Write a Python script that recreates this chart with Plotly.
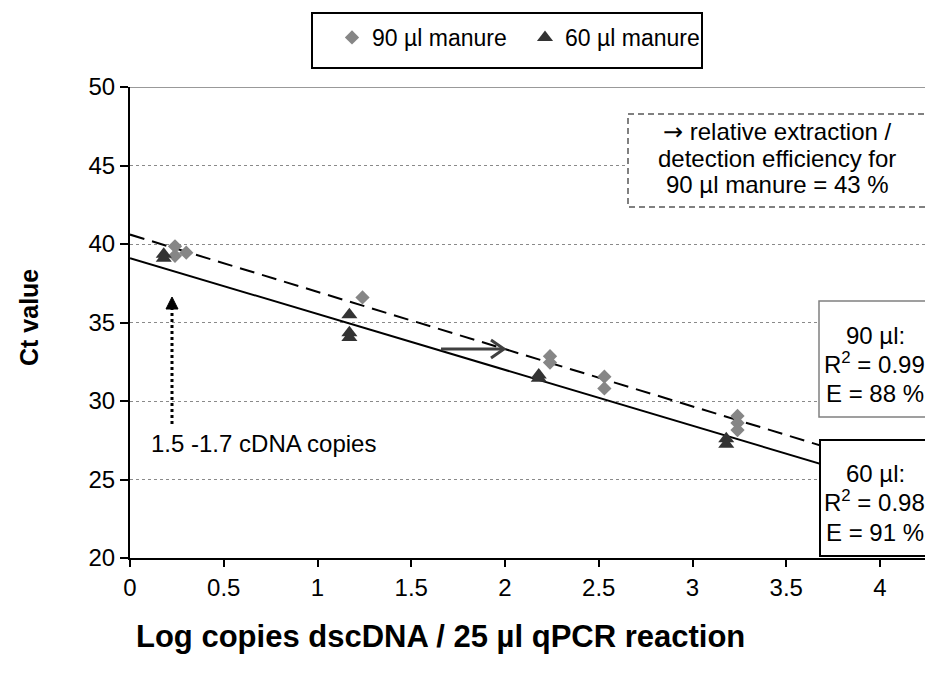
import math
import numpy as np
import plotly.graph_objects as go

# ---------------- data ----------------
x_90 = [0.24, 0.24, 0.30, 1.24, 2.24, 2.24, 2.53, 2.53, 3.24, 3.24, 3.24]
ct_90 = [39.85, 39.25, 39.45, 36.6, 32.85, 32.45, 31.55, 30.8, 29.05, 28.6, 28.15]

x_60 = [0.18, 0.18, 1.17, 1.17, 1.17, 2.18, 2.18, 3.18, 3.18]
ct_60 = [39.35, 39.1, 35.5, 34.35, 34.05, 31.65, 31.45, 27.6, 27.25]

# fitted standard curves (efficiency -> slope, intercept)
eff_90 = 0.88
eff_60 = 0.91
intercept_90 = 40.6
intercept_60 = 39.1
r2_90 = 0.99
r2_60 = 0.98

x_ticks = [0, 0.5, 1, 1.5, 2, 2.5, 3, 3.5, 4]
x_tick_labels = ["0", "0.5", "1", "1.5", "2", "2.5", "3", "3.5", "4"]
y_ticks = [20, 25, 30, 35, 40, 45, 50]

# ---------------- layout geometry ----------------
W, H = 925, 675
L, T, R, B = 130, 87, 0, 117
PW, PH = W - L - R, H - T - B
XMAX = 4.24
YMIN, YMAX = 20, 50


def px2x(px):
    return (px - L) / PW * XMAX


def px2y(py):
    return YMIN + (T + PH - py) / PH * (YMAX - YMIN)


def pxpaper_x(px):
    return (px - L) / PW


def pxpaper_y(py):
    return (T + PH - py) / PH


FONT = "Liberation Sans, Arial, sans-serif"
FS = 24

slope_90 = -1 / math.log10(1 + eff_90)
slope_60 = -1 / math.log10(1 + eff_60)
xfit = np.linspace(0, XMAX, 50)

fig = go.Figure()

fig.add_trace(go.Scatter(
    x=xfit, y=intercept_90 + slope_90 * xfit, mode="lines",
    line=dict(color="black", width=2, dash="15px,8px"),
    showlegend=False, hoverinfo="skip"))
fig.add_trace(go.Scatter(
    x=xfit, y=intercept_60 + slope_60 * xfit, mode="lines",
    line=dict(color="black", width=2),
    showlegend=False, hoverinfo="skip"))

fig.add_trace(go.Scatter(
    x=x_90, y=ct_90, mode="markers", name="90 µl manure",
    marker=dict(symbol="diamond", size=11, color="#868686")))
fig.add_trace(go.Scatter(
    x=x_60, y=ct_60, mode="markers", name="60 µl manure",
    marker=dict(symbol="triangle-up", size=14, color="#333333")))

shapes = []
# legend frame
shapes.append(dict(type="rect", xref="paper", yref="paper",
                   x0=pxpaper_x(312), x1=pxpaper_x(702), y0=pxpaper_y(13), y1=pxpaper_y(68),
                   fillcolor="white", line=dict(color="black", width=2), layer="below"))
# top frame line at 50
shapes.append(dict(type="line", xref="x", yref="y", x0=0, x1=XMAX, y0=50, y1=50,
                   line=dict(color="#999999", width=2), layer="below"))

# dotted vertical arrow
ax_x = px2x(172)
shapes.append(dict(type="line", xref="x", yref="y", x0=ax_x, x1=ax_x,
                   y0=px2y(424), y1=px2y(306),
                   line=dict(color="black", width=3, dash="dot"), layer="above"))
shapes.append(dict(type="path", xref="x", yref="y",
                   path=f"M {px2x(166)},{px2y(309)} L {px2x(172)},{px2y(297)} L {px2x(178)},{px2y(309)} Z",
                   fillcolor="black", line=dict(color="black", width=1), layer="above"))

# horizontal arrow
shapes.append(dict(type="line", xref="x", yref="y", x0=px2x(441), x1=px2x(503),
                   y0=px2y(349), y1=px2y(349),
                   line=dict(color="#404040", width=3), layer="above"))
shapes.append(dict(type="path", xref="x", yref="y",
                   path=f"M {px2x(491)},{px2y(340)} L {px2x(504)},{px2y(349)} L {px2x(491)},{px2y(358)}",
                   line=dict(color="#404040", width=3), layer="above"))

# dashed info box
shapes.append(dict(type="rect", xref="paper", yref="paper",
                   x0=pxpaper_x(628), x1=pxpaper_x(960), y0=pxpaper_y(114), y1=pxpaper_y(207),
                   fillcolor="white", line=dict(color="#808080", width=2, dash="6px,4px"), layer="above"))
# 90 box
shapes.append(dict(type="rect", xref="paper", yref="paper",
                   x0=pxpaper_x(819), x1=pxpaper_x(960), y0=pxpaper_y(301), y1=pxpaper_y(417),
                   fillcolor="white", line=dict(color="#808080", width=1.5), layer="above"))
# 60 box
shapes.append(dict(type="rect", xref="paper", yref="paper",
                   x0=pxpaper_x(820), x1=pxpaper_x(960), y0=pxpaper_y(440), y1=pxpaper_y(556),
                   fillcolor="white", line=dict(color="black", width=2), layer="above"))

annotations = []


def txt(text, px, py, size=FS, bold=False, xanchor="center", angle=0):
    annotations.append(dict(
        text=f"<b>{text}</b>" if bold else text,
        xref="paper", yref="paper", x=pxpaper_x(px), y=pxpaper_y(py),
        xanchor=xanchor, yanchor="middle", showarrow=False, textangle=angle,
        font=dict(family=FONT, size=size, color="black")))


txt('<span style="font-family:DejaVu Sans">→</span> relative extraction /', 777, 132)
txt("detection efficiency for", 777, 158)
txt("90 µl manure = 43 %", 777, 185)

txt("90 µl:", 875, 335)
txt(f"R<sup>2</sup> = {r2_90:.2f}", 874, 363)
txt(f"E = {eff_90*100:.0f} %", 875, 393)

txt("60 µl:", 875, 473)
txt(f"R<sup>2</sup> = {r2_60:.2f}", 874, 501)
txt(f"E = {eff_60*100:.0f} %", 875, 532)

txt("1.5 -1.7 cDNA copies", 263, 443)

txt("Ct value", 29, 318, size=25, bold=True, angle=-90)
txt("Log copies dscDNA / 25 µl qPCR reaction", 440, 636, size=31, bold=True)

fig.update_layout(
    width=W, height=H,
    margin=dict(l=L, r=R, t=T, b=B, autoexpand=False),
    paper_bgcolor="white", plot_bgcolor="white",
    font=dict(family=FONT, size=FS, color="black"),
    shapes=shapes, annotations=annotations,
    legend=dict(orientation="h", x=pxpaper_x(332), xanchor="left",
                y=pxpaper_y(16), yanchor="top",
                borderwidth=0, bgcolor="rgba(0,0,0,0)",
                font=dict(family=FONT, size=23), entrywidth=148),
    xaxis=dict(range=[0, XMAX], tickvals=x_ticks, ticktext=x_tick_labels,
               showgrid=False, zeroline=False, showline=True, linecolor="black", linewidth=2,
               ticks="outside", ticklen=7, tickwidth=2, tickcolor="black",
               tickfont=dict(family=FONT, size=FS), fixedrange=True),
    yaxis=dict(range=[YMIN, YMAX], tickvals=y_ticks,
               showgrid=True, gridcolor="#8a8a8a", gridwidth=1, griddash="dot",
               zeroline=False, showline=True, linecolor="black", linewidth=2,
               ticks="outside", ticklen=8, tickwidth=2, tickcolor="black",
               tickfont=dict(family=FONT, size=FS), fixedrange=True),
)

fig.write_html("out.html")
